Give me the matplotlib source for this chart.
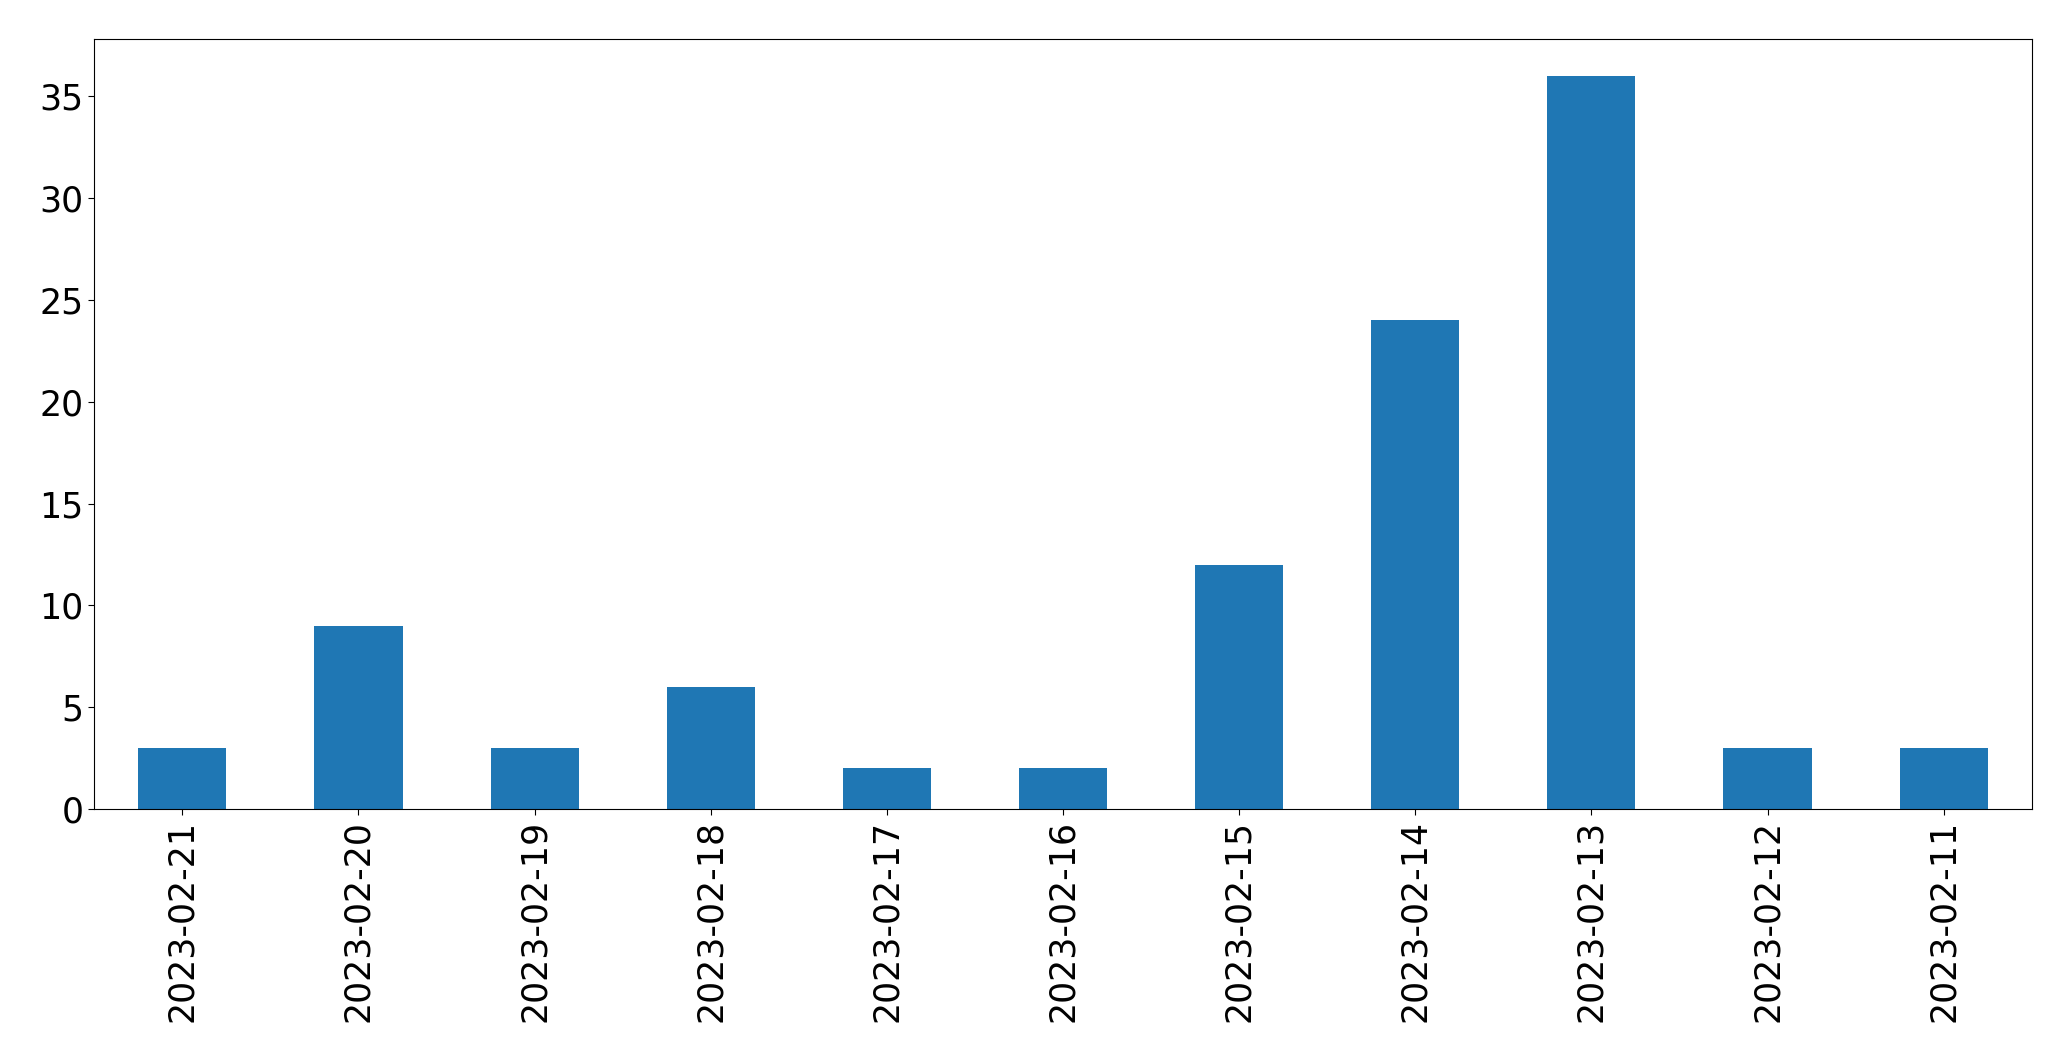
import matplotlib
matplotlib.use("Agg")
import matplotlib.pyplot as plt

dates = ["2023-02-21", "2023-02-20", "2023-02-19", "2023-02-18", "2023-02-17",
         "2023-02-16", "2023-02-15", "2023-02-14", "2023-02-13", "2023-02-12", "2023-02-11"]
counts = [3, 9, 3, 6, 2, 2, 12, 24, 36, 3, 3]

fig = plt.figure(figsize=(20.71, 10.61), dpi=100)
ax = fig.add_axes([94.3 / 2071, 1 - 809 / 1061, (2031.7 - 94.3) / 2071, (809 - 39.3) / 1061])
x = list(range(len(dates)))
ax.bar(x, counts, width=0.5, color="#1f77b4")
ax.set_xlim(-0.5, len(dates) - 0.5)
ax.set_ylim(0, max(counts) * 1.05)
ax.set_xticks(x)
ax.set_xticklabels(dates, rotation=90)
ax.tick_params(labelsize=25, length=4.3)
fig.savefig("out.png", dpi=100)
